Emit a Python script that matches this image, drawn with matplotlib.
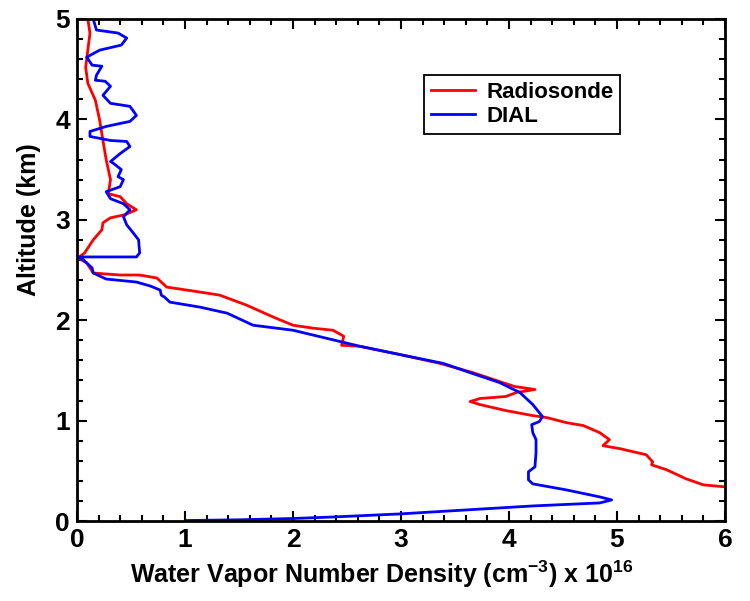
import numpy as np
import matplotlib
matplotlib.use("Agg")
import matplotlib.pyplot as plt
from matplotlib.ticker import MultipleLocator

# Radiosonde profile (density in 1e16 cm^-3, altitude in km)
rs_n = [0.10, 0.12, 0.08, 0.10, 0.17, 0.21, 0.24, 0.27, 0.31, 0.29, 0.40, 0.46, 0.55, 0.44, 0.31,
        0.24, 0.23, 0.15, 0.07, 0.01, 0.09, 0.15, 0.40, 0.58, 0.74, 0.83, 1.14, 1.32, 1.57, 1.82,
        2.00, 2.19, 2.37, 2.47, 2.45, 2.62, 2.98, 3.36, 3.66, 3.91, 4.05, 4.24, 4.07, 3.97, 3.73,
        3.64, 3.73, 3.97, 4.22, 4.35, 4.53, 4.69, 4.84, 4.93, 4.87, 5.03, 5.27, 5.33, 5.32, 5.46,
        5.64, 5.80, 6.00]
rs_alt = [5.00, 4.86, 4.52, 4.36, 4.19, 3.99, 3.79, 3.60, 3.40, 3.26, 3.23, 3.16, 3.10, 3.05, 3.02,
          2.97, 2.90, 2.80, 2.67, 2.62, 2.57, 2.47, 2.45, 2.45, 2.42, 2.33, 2.28, 2.25, 2.15, 2.03,
          1.95, 1.92, 1.90, 1.84, 1.75, 1.74, 1.66, 1.57, 1.48, 1.39, 1.34, 1.31, 1.28, 1.24, 1.22,
          1.19, 1.16, 1.10, 1.05, 1.03, 0.98, 0.95, 0.88, 0.81, 0.75, 0.72, 0.66, 0.59, 0.56, 0.51,
          0.42, 0.36, 0.34]

# DIAL profile
dial_n = [0.15, 0.18, 0.38, 0.46, 0.41, 0.21, 0.09, 0.14, 0.23, 0.18, 0.17, 0.26, 0.31, 0.24, 0.31,
          0.49, 0.55, 0.49, 0.27, 0.12, 0.12, 0.31, 0.46, 0.49, 0.40, 0.31, 0.34, 0.41, 0.38, 0.43,
          0.40, 0.27, 0.31, 0.43, 0.49, 0.43, 0.46, 0.52, 0.57, 0.58, 0.55, 0.01, 0.06, 0.14, 0.15,
          0.27, 0.55, 0.68, 0.77, 0.78, 0.81, 0.86, 1.14, 1.39, 1.63, 2.00, 2.31, 2.62, 2.98, 3.39,
          3.66, 3.91, 4.10, 4.22, 4.31, 4.28, 4.21, 4.22, 4.25, 4.25, 4.24, 4.18, 4.18, 4.22, 4.53,
          4.84, 4.95, 4.84, 4.22, 3.60, 2.98, 2.37, 2.00, 1.50, 1.02]
dial_alt = [5.00, 4.89, 4.86, 4.81, 4.74, 4.69, 4.62, 4.54, 4.53, 4.44, 4.39, 4.38, 4.33, 4.24, 4.16,
            4.13, 4.04, 3.98, 3.93, 3.88, 3.83, 3.79, 3.78, 3.73, 3.66, 3.58, 3.56, 3.50, 3.43, 3.40,
            3.33, 3.28, 3.21, 3.16, 3.10, 3.03, 2.95, 2.87, 2.80, 2.67, 2.63, 2.63, 2.60, 2.52, 2.47,
            2.41, 2.38, 2.34, 2.30, 2.25, 2.23, 2.18, 2.13, 2.07, 1.95, 1.90, 1.82, 1.74, 1.66, 1.57,
            1.47, 1.38, 1.28, 1.16, 1.04, 0.99, 0.96, 0.88, 0.81, 0.68, 0.54, 0.49, 0.41, 0.37, 0.31,
            0.24, 0.21, 0.18, 0.15, 0.11, 0.07, 0.04, 0.025, 0.012, 0.005]

plt.rcParams['font.family'] = ['Liberation Sans', 'DejaVu Sans']
plt.rcParams['font.weight'] = 'bold'
plt.rcParams['mathtext.fontset'] = 'custom'
plt.rcParams['mathtext.bf'] = 'Liberation Sans:bold'
plt.rcParams['mathtext.rm'] = 'Liberation Sans:bold'

fig = plt.figure(figsize=(7.5, 6.01), dpi=100)
ax = fig.add_axes([0.1027, 0.1331, 0.8640, 0.8353])

ax.plot(rs_n, rs_alt, color='#ff0000', lw=2.0, label='Radiosonde')
ax.plot(dial_n, dial_alt, color='#0000ff', lw=2.0, label='DIAL')

ax.set_xlim(0, 6)
ax.set_ylim(0, 5)
ax.xaxis.set_major_locator(MultipleLocator(1))
ax.yaxis.set_major_locator(MultipleLocator(1))
ax.xaxis.set_minor_locator(MultipleLocator(0.2))
ax.yaxis.set_minor_locator(MultipleLocator(0.2))
ax.tick_params(which='both', direction='in', top=True, right=True, width=1.5)
ax.tick_params(which='major', length=7, labelsize=19, pad=5)
ax.tick_params(which='minor', length=4)
for s in ax.spines.values():
    s.set_linewidth(2.0)

ax.set_xlabel('Water Vapor Number Density (cm$^{-3}$) x 10$^{16}$',
              fontsize=18, fontweight='bold', labelpad=4)
ax.xaxis.set_label_coords(0.47, -0.075)
ax.set_ylabel('Altitude (km)', fontsize=18, fontweight='bold')
ax.yaxis.set_label_coords(-0.055, 0.6)

leg = ax.legend(loc='upper right', bbox_to_anchor=(0.838, 0.888), fontsize=16,
                fancybox=False, framealpha=1, edgecolor='black', borderaxespad=0,
                handlelength=2.0, borderpad=0.3, labelspacing=0.15, handletextpad=0.5)
leg.get_frame().set_linewidth(1.3)

fig.savefig('out.png', dpi=100)
